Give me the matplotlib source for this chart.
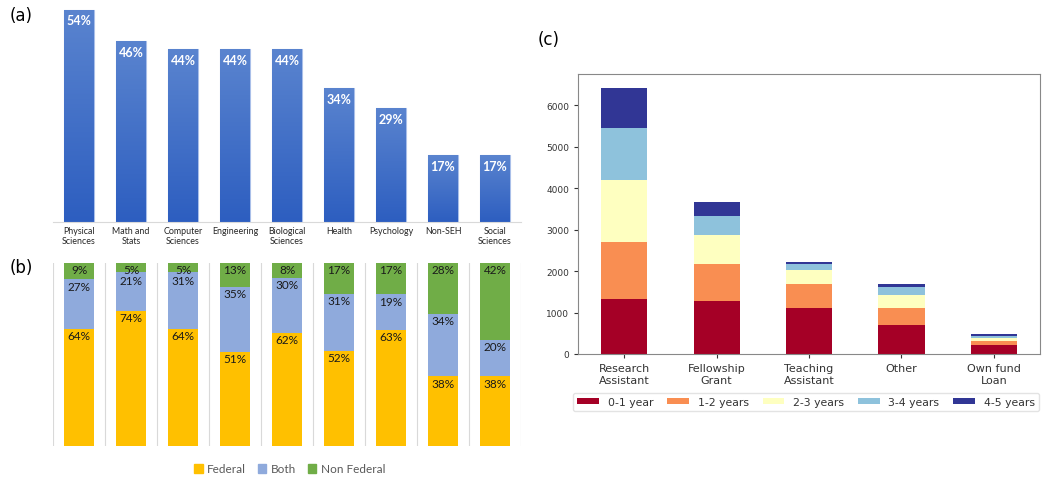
import numpy as np
import matplotlib
matplotlib.use("Agg")
import matplotlib.pyplot as plt
from matplotlib import cm
from matplotlib.patches import Patch
from matplotlib.colors import LinearSegmentedColormap

# ---------------- data ----------------
fields = ["Physical\nSciences", "Math and\nStats", "Computer\nSciences", "Engineering",
          "Biological\nSciences", "Health", "Psychology", "Non-SEH", "Social\nSciences"]
share_pct = [54, 46, 44, 44, 44, 34, 29, 17, 17]

federal = [64, 74, 64, 51, 62, 52, 63, 38, 38]
both = [27, 21, 31, 35, 30, 31, 19, 34, 20]
non_federal = [9, 5, 5, 13, 8, 17, 17, 28, 42]
b_series = ["Federal", "Both", "Non Federal"]

support = ["Research\nAssistant", "Fellowship\nGrant", "Teaching\nAssistant", "Other", "Own fund\nLoan"]
durations = ["0-1 year", "1-2 years", "2-3 years", "3-4 years", "4-5 years"]
y0_1 = [1325, 1277, 1100, 700, 217]
y1_2 = [1380, 892, 579, 400, 100]
y2_3 = [1495, 698, 337, 322, 60]
y3_4 = [1255, 458, 161, 192, 50]
y4_5 = [965, 330, 30, 65, 45]

W, H = 1050, 485
fig = plt.figure(figsize=(W / 100, H / 100), dpi=100)
fig.patch.set_facecolor("white")

def ax_px(l, t, r, b):
    return fig.add_axes([l / W, 1 - b / H, (r - l) / W, (b - t) / H])

office_font = ["Lato", "DejaVu Sans"]

# ---------------- panel (a) ----------------
axa = ax_px(53, 6, 521, 223)
x = np.arange(len(fields))
bars = axa.bar(x, share_pct, width=0.56, color="#4472C4", edgecolor="#a9bfe9", linewidth=0.8, zorder=2)
grad = np.linspace(0, 1, 256).reshape(-1, 1)
bcmap = LinearSegmentedColormap.from_list("b", ["#2d5ec0", "#5a84cf"])
for bar in bars:
    bx, bw, bh = bar.get_x(), bar.get_width(), bar.get_height()
    im = axa.imshow(grad, cmap=bcmap, origin="lower", aspect="auto",
                    extent=(bx, bx + bw, 0, bh), zorder=2.5)
    im.set_clip_path(bar)
    axa.text(bx + bw / 2, bh - 1.2, f"{int(bh)}%", ha="center", va="top",
             color="white", fontsize=9, fontweight="bold", family=office_font, zorder=3)
axa.set_xlim(-0.5, len(fields) - 0.5)
axa.set_ylim(0, 55.2)
for s in ["top", "right", "left"]:
    axa.spines[s].set_visible(False)
axa.spines["bottom"].set_color("#d9d9d9")
axa.set_yticks([])
axa.set_xticks(x)
axa.set_xticklabels(fields, fontsize=6.4, family=office_font, color="#262626", linespacing=1.1)
axa.tick_params(axis="x", length=0, pad=3)

# ---------------- panel (b) ----------------
axb = ax_px(53, 264, 521, 447)
fed = np.array(federal, float)
bo = np.array(both, float)
nf = np.array(non_federal, float)
tot = fed + bo + nf
cols_b = ["#FFC000", "#8FAADC", "#70AD47"]
bottom = np.zeros(len(fields))
containers = []
for vals, c in zip([fed, bo, nf], cols_b):
    frac = vals / tot * 100
    bb = axb.bar(x, frac, bottom=bottom, width=0.56, color=c, zorder=2)
    containers.append((bb, vals))
    bottom += frac
label_h = 6.0  # label height in axis units, keeps stacked labels apart
for i in range(len(fields)):
    prev_bottom = 101.0
    for bb, vals in reversed(containers):
        rect = bb[i]
        top = rect.get_y() + rect.get_height()
        ypos = min(top - 0.6, prev_bottom)
        axb.text(rect.get_x() + rect.get_width() / 2, ypos, f"{int(vals[i])}%", ha="center",
                 va="top", fontsize=8.5, family=office_font, color="#1a1a1a", zorder=3)
        prev_bottom = ypos - label_h
axb.set_xlim(-0.5, len(fields) - 0.5)
axb.set_ylim(0, 100)
for s in axb.spines.values():
    s.set_visible(False)
axb.set_xticks(np.arange(-0.5, len(fields), 1.0))
axb.set_xticklabels([])
axb.tick_params(axis="x", length=0)
axb.set_yticks([])
axb.grid(axis="x", color="#d9d9d9", linewidth=0.8, zorder=0)
axb.set_axisbelow(True)
handles_b = [Patch(color=c, label=l) for c, l in zip(cols_b, b_series)]
fig.legend(handles=handles_b, loc="center", bbox_to_anchor=(290 / W, 1 - 470 / H), ncol=3,
           frameon=False, prop={"family": office_font, "size": 8.5}, handlelength=0.7,
           handleheight=0.7, handletextpad=0.4, columnspacing=1.0, labelcolor="#595959")

# ---------------- panel (c) ----------------
axc = ax_px(578, 75, 1040, 355)
xc = np.arange(len(support))
colors_c = cm.RdYlBu(np.linspace(0, 1, 5))
bot = np.zeros(len(support))
for vals, c, lab in zip([y0_1, y1_2, y2_3, y3_4, y4_5], colors_c, durations):
    v = np.array(vals, float)
    axc.bar(xc, v, bottom=bot, width=0.5, color=c, label=lab)
    bot += v
axc.set_xlim(-0.5, len(support) - 0.5)
axc.set_ylim(0, 6750)
axc.set_yticks(np.arange(0, 7000, 1000))
axc.tick_params(axis="y", labelsize=6.5, colors="#333333", length=3)
axc.set_xticks(xc)
axc.set_xticklabels(support, fontsize=8, color="#333333")
axc.tick_params(axis="x", length=3, colors="#333333")
for s in axc.spines.values():
    s.set_color("#888888")
fig.legend(*axc.get_legend_handles_labels(), loc="center",
           bbox_to_anchor=(806 / W, 1 - 403 / H), ncol=5, fontsize=7.8,
           frameon=True, edgecolor="#dddddd", handlelength=2.0, handleheight=0.5,
           handletextpad=0.8, columnspacing=1.3, labelcolor="#333333",
           borderpad=0.4)

# ---------------- panel labels ----------------
fig.text(10 / W, 1 - 16 / H, "(a)", fontsize=12, va="center", ha="left")
fig.text(10 / W, 1 - 268 / H, "(b)", fontsize=12, va="center", ha="left")
fig.text(538 / W, 1 - 40 / H, "(c)", fontsize=12, va="center", ha="left")

fig.savefig("out.png", dpi=100)
